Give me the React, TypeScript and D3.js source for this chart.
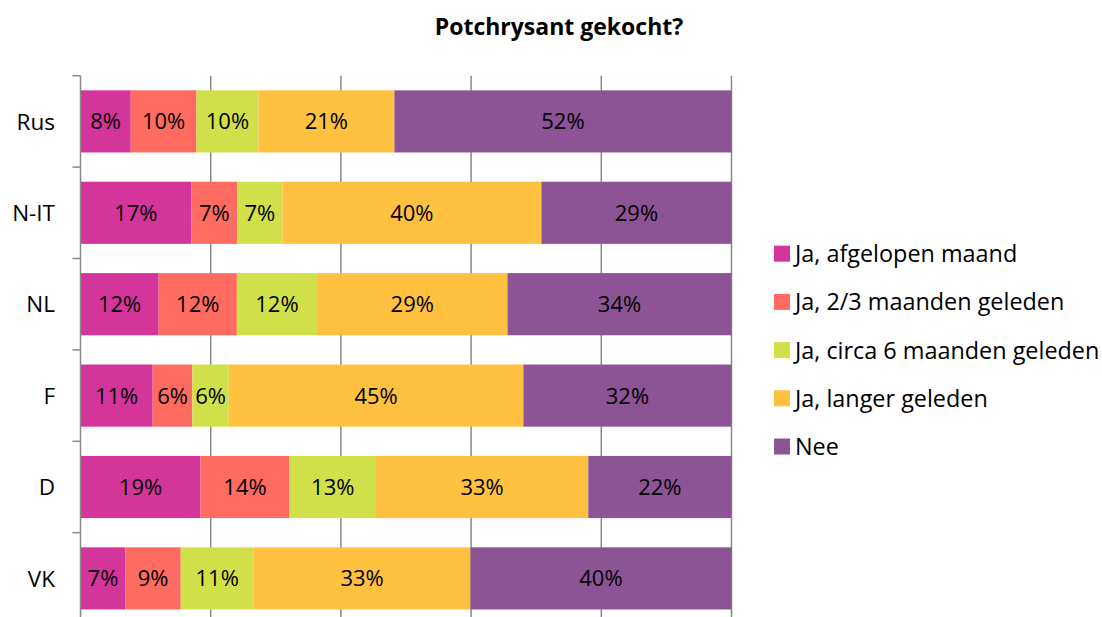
import React from "react";
import * as d3 from "d3";

const categories = ["Rus", "N-IT", "NL", "F", "D", "VK"];
const seriesNames = [
  "Ja, afgelopen maand",
  "Ja, 2/3 maanden geleden",
  "Ja, circa 6 maanden geleden",
  "Ja, langer geleden",
  "Nee",
];
const seriesColors = ["#D4359A", "#FF6B61", "#D0E048", "#FFC13F", "#8C5395"];
// values per category, in series order (percent)
const afgelopenMaand = [7.8, 17.0, 11.9, 11.1, 18.6, 6.9];
const tweeDrieMaanden = [10.2, 7.1, 11.9, 6.1, 13.8, 8.5];
const circaZesMaanden = [9.6, 6.9, 12.2, 5.6, 13.4, 11.2];
const langerGeleden = [21.1, 39.8, 29.0, 45.3, 32.9, 33.3];
const nee = [52.3, 29.2, 34.1, 32.0, 22.2, 40.1];
const xTicks = [0, 0.2, 0.4, 0.6, 0.8, 1];

const title = "Potchrysant gekocht?";

const W = 1102;
const H = 617;
const FONT = "'Open Sans', Lato, sans-serif";

export default function App() {
  const seriesValues = [afgelopenMaand, tweeDrieMaanden, circaZesMaanden, langerGeleden, nee];
  const rows = categories.map((c, i) => {
    const r: any = { cat: c };
    seriesNames.forEach((s, j) => (r[s] = seriesValues[j][i]));
    return r;
  });
  const stacked = d3
    .stack<any>()
    .keys(seriesNames)
    .offset(d3.stackOffsetExpand)(rows);

  const x = d3.scaleLinear().domain([0, 1]).range([80.5, 731.5]);
  const y = d3.scaleBand<string>().domain(categories).range([75.7, 624.1]).padding(0);
  const barH = y.bandwidth() * 0.68;
  const off = (y.bandwidth() - barH) / 2;
  const gridColor = "#888888";

  return (
    <svg
      width={W}
      height={H}
      style={{ position: "absolute", left: 0, top: 0, display: "block", background: "#fff" }}
      fontFamily={FONT}
    >
      <text x={559} y={35} textAnchor="middle" fontWeight="bold" fontSize={23} fill="#000">
        {title}
      </text>

      {/* gridlines */}
      {xTicks.slice(1).map((t) => (
        <line key={t} x1={x(t)} x2={x(t)} y1={y.range()[0]} y2={y.range()[1]} stroke={gridColor} strokeWidth={1.5} />
      ))}

      {/* bars */}
      {stacked.map((layer, si) => (
        <g key={layer.key} fill={seriesColors[si]}>
          {layer.map((d, ci) => (
            <rect
              key={ci}
              x={x(d[0])}
              y={(y(categories[ci]) as number) + off}
              width={x(d[1]) - x(d[0])}
              height={barH}
            />
          ))}
        </g>
      ))}

      {/* data labels */}
      {stacked.map((layer, si) => (
        <g key={"l" + layer.key}>
          {layer.map((d, ci) => (
            <text
              key={ci}
              x={(x(d[0]) + x(d[1])) / 2}
              y={(y(categories[ci]) as number) + y.bandwidth() / 2}
              dy="0.36em"
              textAnchor="middle"
              fontSize={22}
              fill="#000"
            >
              {Math.round(seriesValues[si][ci]) + "%"}
            </text>
          ))}
        </g>
      ))}

      {/* y axis */}
      <line x1={x(0)} x2={x(0)} y1={y.range()[0]} y2={y.range()[1]} stroke={gridColor} strokeWidth={1.5} />
      {categories.map((c) => (
        <line key={c} x1={x(0) - 8} x2={x(0)} y1={y(c)} y2={y(c)} stroke={gridColor} strokeWidth={1.5} />
      ))}
      {categories.map((c) => (
        <text
          key={"t" + c}
          x={55}
          y={(y(c) as number) + y.bandwidth() / 2}
          dy="0.36em"
          textAnchor="end"
          fontSize={22.5}
          fill="#000"
        >
          {c}
        </text>
      ))}

      {/* legend */}
      {seriesNames.map((s, i) => {
        const cy = 253.7 + i * 48.2;
        return (
          <g key={"lg" + s}>
            <rect x={774} y={cy - 8} width={16} height={16} fill={seriesColors[i]} />
            <text x={795} y={cy} dy="0.36em" fontSize={23.4} fill="#000">
              {s}
            </text>
          </g>
        );
      })}
    </svg>
  );
}
